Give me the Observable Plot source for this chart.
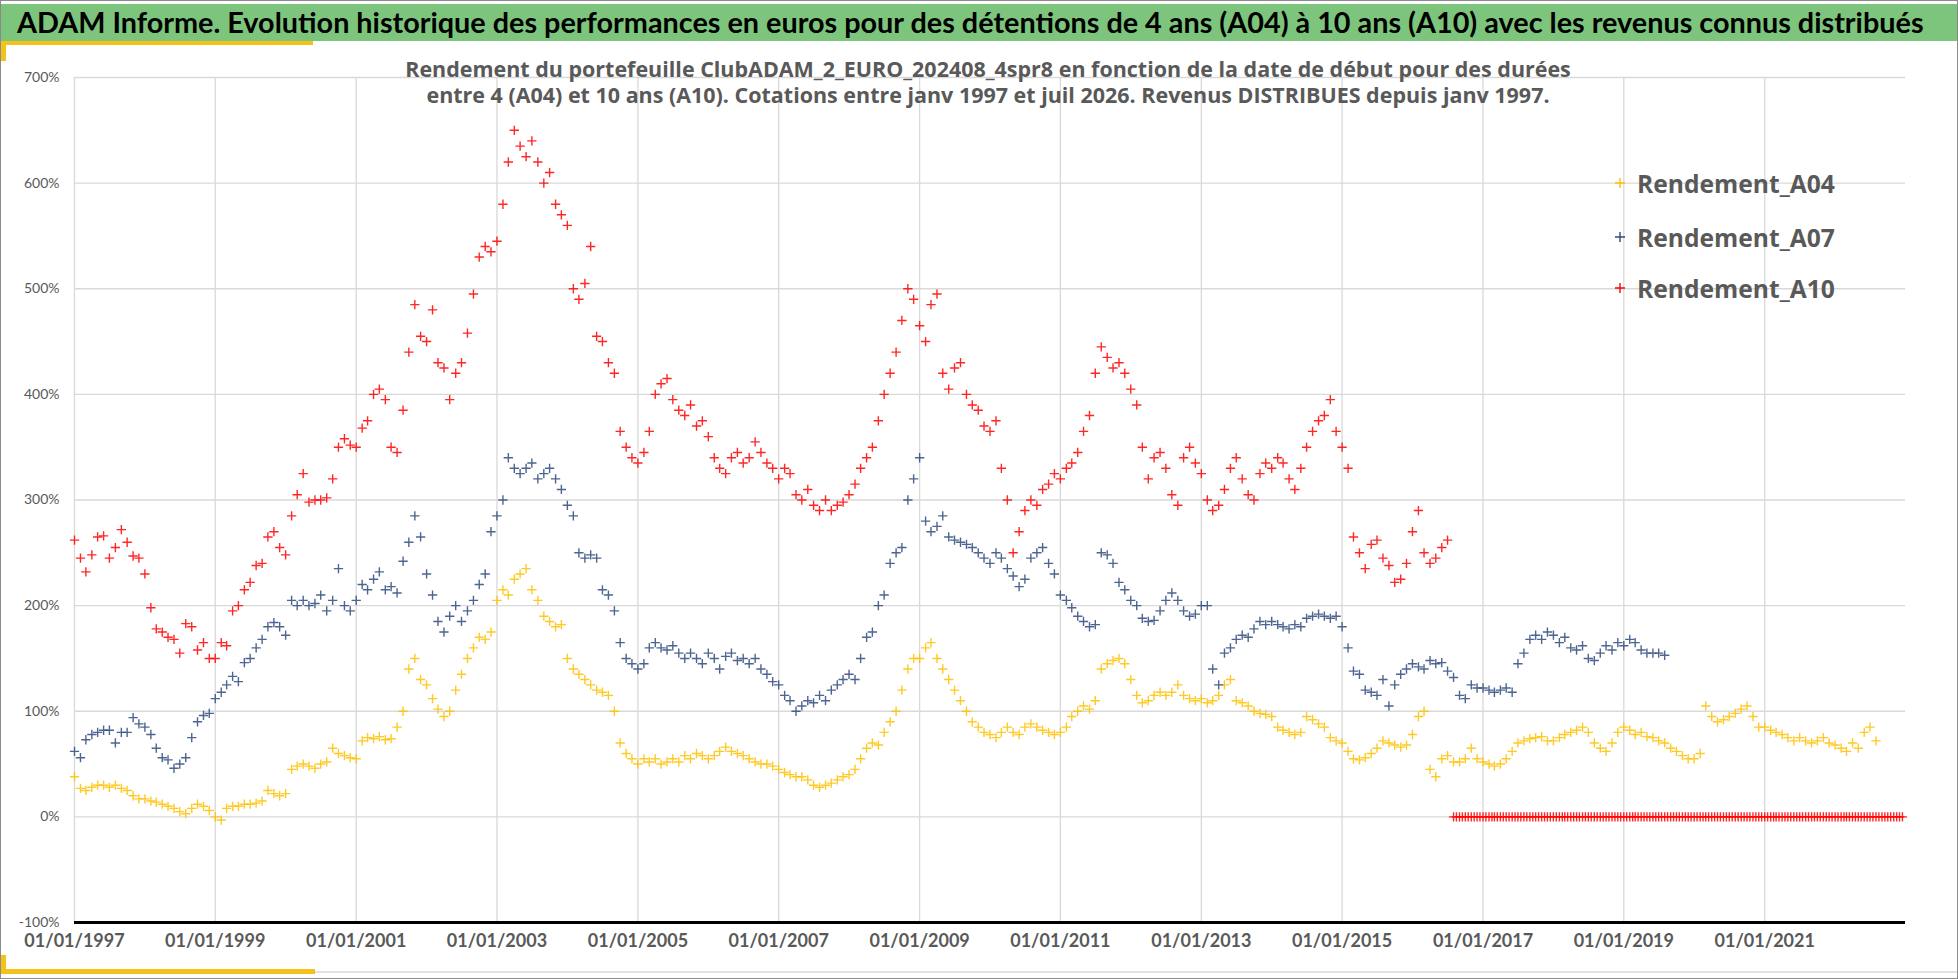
<!DOCTYPE html>
<html><head><meta charset="utf-8">
<script src="https://cdn.jsdelivr.net/npm/d3@7"></script>
<script src="https://cdn.jsdelivr.net/npm/@observablehq/plot@0.6"></script>
<style>
body{margin:0;background:#fff;}
#wrap{position:relative;width:1958px;height:979px;overflow:hidden;background:#fff;}
#chart{position:absolute;left:0;top:0;}
.abs{position:absolute;}
#greenbar{left:1px;top:4px;width:1956px;height:37px;background:#7dc57c;}
#title{left:17px;top:4px;height:37px;line-height:37px;white-space:nowrap;font-family:Lato,sans-serif;font-weight:bold;color:#000;}
.sub{left:0;width:1976px;text-align:center;white-space:nowrap;font-family:"Open Sans",sans-serif;font-weight:bold;color:#595959;}
.leg{left:1612px;height:30px;display:flex;align-items:center;white-space:nowrap;}
.leg span{font-family:"Open Sans",sans-serif;font-weight:bold;color:#595959;margin-left:9px;}
#border{left:0;top:0;width:1956px;height:977px;border:1px solid #8a8a8a;pointer-events:none;}
</style></head><body>
<div id="wrap">
  <div id="chart"></div>
  <div id="greenbar" class="abs"></div>
  <div id="title" class="abs"></div>
  <div class="abs" style="left:1px;top:41px;width:312px;height:4px;background:#f5c21b;"></div>
  <div class="abs" style="left:1px;top:41px;width:5px;height:20px;background:#f5c21b;"></div>
  <div id="sub1" class="abs sub"></div>
  <div id="sub2" class="abs sub"></div>
  <div id="legend"></div>
  <div class="abs" style="left:315px;top:971px;width:1642px;height:2px;background:#e2e2e2;"></div>
  <div class="abs" style="left:1px;top:969px;width:314px;height:5px;background:#f5c21b;"></div>
  <div class="abs" style="left:1px;top:955px;width:5px;height:19px;background:#f5c21b;"></div>
  <div id="border" class="abs"></div>
</div>
<script>
// ---------------- data ----------------
const titleText = "ADAM Informe. Evolution historique des performances en euros pour des détentions de 4 ans (A04) à 10 ans (A10) avec les revenus connus distribués";
const subtitleLines = [
  "Rendement du portefeuille ClubADAM_2_EURO_202408_4spr8  en fonction de la date de début pour des durées",
  "entre 4 (A04) et 10 ans (A10). Cotations entre janv 1997 et juil 2026. Revenus DISTRIBUES depuis janv 1997."
];
const seriesNames = ["Rendement_A04", "Rendement_A07", "Rendement_A10"];
const seriesColors = ["#FFC000", "#2E4A7D", "#FF0000"];

const yTicks = [-100, 0, 100, 200, 300, 400, 500, 600, 700];
const yGrid = [0, 100, 200, 300, 400, 500, 600, 700];
const xTickYears = [1997, 1999, 2001, 2003, 2005, 2007, 2009, 2011, 2013, 2015, 2017, 2019, 2021];

// monthly values (%) starting January 1997
const a04Values = [
  38, 27, 25, 28, 30, 30, 28, 30, 27, 25, 20, 17,
  17, 15, 14, 12, 10, 8, 5, 3, 8, 12, 10, 6,
  0, -3, 8, 10, 10, 12, 12, 13, 15, 25, 22, 20,
  22, 45, 48, 50, 48, 46, 50, 52, 65, 60, 58, 56,
  55, 72, 75, 74, 76, 73, 74, 85, 100, 140, 150, 130,
  125, 112, 102, 95, 100, 120, 135, 150, 160, 170, 168, 175,
  205, 215, 210, 225, 230, 235, 215, 205, 190, 185, 180, 182,
  150, 140, 135, 130, 125, 120, 118, 115, 100, 70, 60, 55,
  50, 55, 52, 55, 50, 52, 55, 52, 58, 55, 60, 58,
  55, 58, 62, 66, 62, 60, 58, 55, 52, 50, 50, 48,
  45, 42, 40, 38, 38, 35, 30, 28, 30, 32, 35, 38,
  40, 45, 55, 65, 70, 68, 80, 90, 100, 120, 140, 150,
  150, 160, 165, 150, 140, 130, 120, 110, 100, 90, 85, 80,
  78, 75, 80, 85, 80, 78, 85, 88, 85, 82, 80, 78,
  80, 85, 95, 100, 105, 102, 110, 140, 145, 148, 150, 145,
  130, 115, 108, 110, 115, 118, 115, 118, 125, 115, 112, 110,
  112, 108, 110, 115, 125, 130, 110, 108, 105, 100, 98, 97,
  95, 85, 82, 80, 78, 80, 95, 92, 88, 85, 75, 72,
  70, 62, 55, 54, 56, 60, 65, 72, 70, 68, 66, 68,
  78, 95, 100, 45, 38, 55, 58, 52, 52, 55, 65, 55,
  52, 50, 48, 50, 55, 62, 70, 72, 74, 75, 76, 72,
  72, 75, 78, 80, 82, 85, 80, 70, 65, 62, 70, 80,
  85, 82, 78, 80, 76, 75, 72, 70, 65, 62, 58, 55,
  55, 60, 105, 95, 90, 92, 95, 98, 102, 105, 95, 85,
  85, 82, 80, 78, 75, 72, 75, 72, 70, 72, 75, 70,
  68, 65, 62, 70, 65, 80, 85, 72
];
const a07Values = [
  62, 56, 73, 78, 80, 82, 82, 70, 80, 80, 94, 88,
  85, 78, 65, 56, 54, 46, 50, 56, 75, 90, 96, 98,
  112, 118, 125, 133, 128, 146, 150, 160, 168, 180, 184, 180,
  172, 205, 200, 205, 200, 202, 210, 195, 205, 235, 200, 195,
  205, 220, 215, 225, 232, 215, 218, 212, 242, 260, 285, 265,
  230, 210, 185, 175, 190, 200, 185, 195, 205, 220, 230, 270,
  285, 300, 340, 330, 325, 330, 335, 320, 325, 330, 320, 310,
  295, 285, 250, 245, 248, 245, 215, 210, 195, 165, 150, 145,
  140, 145, 160, 165, 160, 158, 162, 155, 150, 155, 150, 145,
  155, 150, 140, 152, 155, 148, 150, 145, 150, 140, 135, 128,
  125, 115, 110, 100, 105, 110, 108, 115, 110, 120, 125, 130,
  135, 130, 150, 170, 175, 200, 210, 240, 250, 255, 300, 320,
  340, 280, 270, 275, 285, 265, 262, 260, 258, 255, 250, 245,
  240, 250, 245, 235, 228, 218, 225, 245, 250, 255, 240, 230,
  210, 205, 198, 190, 185, 180, 182, 250, 248, 240, 222, 215,
  205, 200, 188, 185, 186, 195, 205, 212, 205, 195, 190, 192,
  200, 200, 140, 125, 155, 160, 168, 172, 170, 178, 185, 182,
  185, 182, 180, 178, 182, 180, 188, 190, 192, 190, 188, 190,
  180, 160, 138, 135, 120, 118, 115, 130, 105, 125, 135, 140,
  145, 142, 140, 148, 145, 146, 138, 132, 115, 112, 125, 122,
  122, 120, 118, 120, 122, 118, 145, 155, 168, 172, 168, 175,
  172, 165, 170, 160, 158, 162, 150, 148, 155, 162, 158, 165,
  162, 168, 165, 158, 155, 155, 155, 153
];
const a10Values = [
  262, 245, 232, 248, 265, 266, 245, 255, 272, 260, 247, 245,
  230, 198, 178, 175, 170, 168, 155, 183, 180, 158, 165, 150,
  150, 165, 162, 195, 200, 215, 222, 238, 240, 265, 270, 255,
  248, 285, 305, 325, 298, 300, 300, 302, 320, 350, 358, 352,
  350, 368, 375, 400, 405, 395, 350, 345, 385, 440, 485, 455,
  450, 480, 430, 425, 395, 420, 430, 458, 495, 530, 540, 535,
  545, 580, 620, 650, 635, 625, 640, 620, 600, 610, 580, 570,
  560, 500, 490, 505, 540, 455, 450, 430, 420, 365, 350, 340,
  335, 345, 365, 400, 410, 415, 395, 385, 380, 390, 370, 375,
  360, 340, 330, 325, 340, 345, 335, 340, 355, 345, 335, 330,
  320, 330, 325, 305, 300, 310, 295, 290, 300, 290, 295, 298,
  305, 315, 330, 340, 350, 375, 400, 420, 440, 470, 500, 490,
  465, 450, 485, 495, 420, 405, 425, 430, 400, 390, 385, 370,
  365, 375, 330, 300, 250, 270, 290, 300, 295, 310, 315, 325,
  320, 330, 335, 345, 365, 380, 420, 445, 435, 425, 430, 420,
  405, 390, 350, 320, 340, 345, 330, 305, 295, 340, 350, 335,
  325, 300, 290, 295, 310, 330, 340, 320, 305, 300, 325, 335,
  330, 340, 335, 320, 310, 330, 350, 365, 375, 380, 395, 365,
  350, 330, 265, 250, 235, 258, 262, 245, 238, 222, 225, 240,
  270, 290, 250, 240, 245, 255, 262
];
// A10 values at 0% from August 2016 to December 2022 (twice a month)
const a10ZeroValues = [
  0, 0, 0, 0, 0, 0, 0, 0, 0, 0, 0,
  0, 0, 0, 0, 0, 0, 0, 0, 0, 0, 0,
  0, 0, 0, 0, 0, 0, 0, 0, 0, 0, 0,
  0, 0, 0, 0, 0, 0, 0, 0, 0, 0, 0,
  0, 0, 0, 0, 0, 0, 0, 0, 0, 0, 0,
  0, 0, 0, 0, 0, 0, 0, 0, 0, 0, 0,
  0, 0, 0, 0, 0, 0, 0, 0, 0, 0, 0,
  0, 0, 0, 0, 0, 0, 0, 0, 0, 0, 0,
  0, 0, 0, 0, 0, 0, 0, 0, 0, 0, 0,
  0, 0, 0, 0, 0, 0, 0, 0, 0, 0, 0,
  0, 0, 0, 0, 0, 0, 0, 0, 0, 0, 0,
  0, 0, 0, 0, 0, 0, 0, 0, 0, 0, 0,
  0, 0, 0, 0, 0, 0, 0, 0, 0, 0, 0,
  0, 0, 0, 0, 0, 0, 0, 0, 0, 0, 0
];

// ---------------- build tables ----------------
function monthly(startYear, startMonth, values) {
  return values.map((v, i) => ({date: new Date(Date.UTC(startYear, startMonth + i, 1)), value: v}));
}
function halfMonthly(startYear, startMonth, values) {
  return values.map((v, i) => ({date: new Date(Date.UTC(startYear, startMonth + Math.floor(i / 2), i % 2 ? 16 : 1)), value: v}));
}
const a04 = monthly(1997, 0, a04Values);
const a07 = monthly(1997, 0, a07Values);
const a10 = monthly(1997, 0, a10Values).concat(halfMonthly(2016, 7, a10ZeroValues));
const xTicks = xTickYears.map(y => new Date(Date.UTC(y, 0, 1)));

// ---------------- text ----------------
const ctx = document.createElement("canvas").getContext("2d");
function fit(el, text, family, weight, target) {
  el.textContent = text;
  ctx.font = `${weight} 100px ${family}`;
  const w = ctx.measureText(text).width;
  const fs = 100 * target / w;
  el.style.fontSize = fs + "px";
  return fs;
}
fit(document.getElementById("title"), titleText, "Lato", "bold", 1908);
const s1 = document.getElementById("sub1"), s2 = document.getElementById("sub2");
const fs1 = fit(s1, subtitleLines[0], "'Open Sans'", "bold", 1172);
s2.textContent = subtitleLines[1];
s2.style.fontSize = fs1 + "px";
s1.style.lineHeight = s2.style.lineHeight = "26px";
s1.style.top = (69 - 13) + "px";
s2.style.top = (95 - 13) + "px";

const legend = document.getElementById("legend");
const legRows = [183, 237, 288];
seriesNames.forEach((name, i) => {
  const row = document.createElement("div");
  row.className = "abs leg";
  row.style.top = (legRows[i] - 15) + "px";
  row.innerHTML = `<svg width="16" height="16"><path d="M3,8H13M8,3V13" stroke="${seriesColors[i]}" stroke-width="1.4" fill="none"/></svg><span></span>`;
  legend.appendChild(row);
  fit(row.querySelector("span"), name, "'Open Sans'", "bold", 198);
});

// ---------------- plot ----------------
const dotOpts = (color) => ({x: "date", y: "value", symbol: "plus", r: 3.1, stroke: color, strokeWidth: 1.4, strokeOpacity: 0.85, fill: "none"});
const chart = Plot.plot({
  width: 1958,
  height: 979,
  marginLeft: 74, marginRight: 53, marginTop: 77, marginBottom: 57,
  style: {background: "transparent", fontFamily: "Lato, sans-serif", overflow: "visible"},
  x: {type: "utc", domain: [new Date(Date.UTC(1997, 0, 1)), new Date(Date.UTC(2023, 0, 1))]},
  y: {domain: [-100, 700]},
  marks: [
    Plot.ruleY(yGrid, {stroke: "#d9d9d9", strokeWidth: 1.3}),
    Plot.ruleX(xTicks, {stroke: "#d9d9d9", strokeWidth: 1.3}),
    Plot.axisY({ticks: yTicks, tickSize: 0, tickPadding: 15, tickFormat: d => d + "%", fontSize: 14, fill: "#595959", label: null}),
    Plot.axisX({ticks: xTicks, tickSize: 0, tickPadding: 12, tickFormat: d => "01/01/" + d.getUTCFullYear(), fontSize: 18, fontWeight: "bold", fill: "#595959", label: null}),
    Plot.dot(a04, dotOpts(seriesColors[0])),
    Plot.dot(a07, dotOpts(seriesColors[1])),
    Plot.dot(a10, dotOpts(seriesColors[2])),
    Plot.ruleY([-100], {stroke: "#000", strokeWidth: 3})
  ]
});
document.getElementById("chart").appendChild(chart);
</script>
</body></html>
